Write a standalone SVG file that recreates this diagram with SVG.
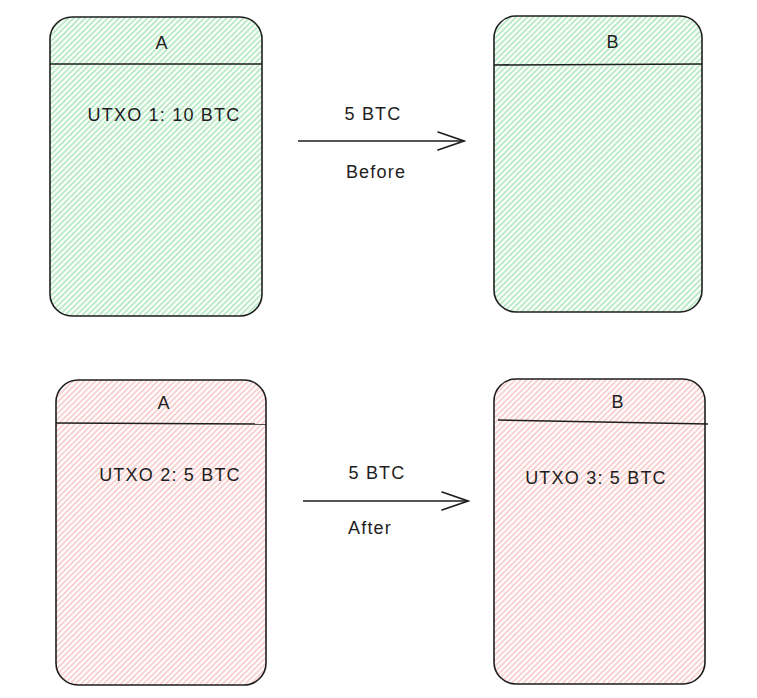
<svg xmlns="http://www.w3.org/2000/svg" width="757" height="698" viewBox="0 0 757 698">
<defs>
<pattern id="hg" width="4" height="4" patternUnits="userSpaceOnUse" patternTransform="rotate(-45)">
<line x1="0" y1="1" x2="4" y2="1" stroke="#6ad383" stroke-width="0.9"/>
</pattern>
<pattern id="hr" width="4" height="4" patternUnits="userSpaceOnUse" patternTransform="rotate(-45)">
<line x1="0" y1="1" x2="4" y2="1" stroke="#f29a9a" stroke-width="0.9"/>
</pattern>
<marker id="ah" markerWidth="30" markerHeight="20" refX="28" refY="10" orient="auto" markerUnits="userSpaceOnUse">
<path d="M2 1 L28 10 L2 19" fill="none" stroke="#1e1e1e" stroke-width="1.6" stroke-linecap="round"/>
</marker>
<style>
.box{stroke:#1e1e1e;stroke-width:1.6;}
.div{stroke:#1e1e1e;stroke-width:1.6;fill:none;}
.t{font-family:"Liberation Sans",sans-serif;font-size:18px;letter-spacing:1.2px;fill:#1e1e1e;text-anchor:middle;}
.c{stroke:#1e1e1e;stroke-width:1.6;fill:none;}
</style>
</defs>
<g id="nodeAbefore">
<rect class="box" x="50" y="17" width="212" height="299" rx="22" fill="url(#hg)"/>
<line class="div" x1="50" y1="64" x2="262" y2="64"/>
<text class="t" x="162" y="49">A</text>
<text class="t" x="164" y="121">UTXO 1: 10 BTC</text>
</g>
<g id="nodeBbefore">
<rect class="box" x="494" y="16" width="208" height="296" rx="22" fill="url(#hg)"/>
<line class="div" x1="494" y1="65" x2="702" y2="64"/>
<text class="t" x="613" y="48">B</text>
</g>
<g id="nodeAafter">
<rect class="box" x="56" y="380" width="210" height="305" rx="22" fill="url(#hr)"/>
<line class="div" x1="56" y1="423" x2="266" y2="424"/>
<text class="t" x="164" y="409">A</text>
<text class="t" x="170" y="481">UTXO 2: 5 BTC</text>
</g>
<g id="nodeBafter">
<rect class="box" x="494" y="379" width="211" height="305" rx="22" fill="url(#hr)"/>
<line class="div" x1="498" y1="420" x2="708" y2="424"/>
<text class="t" x="618" y="408">B</text>
<text class="t" x="596" y="484">UTXO 3: 5 BTC</text>
</g>
<g id="connectors">
<line class="c" x1="298" y1="141" x2="464" y2="141" marker-end="url(#ah)"/>
<text class="t" x="373" y="120">5 BTC</text>
<text class="t" x="376" y="178">Before</text>
<line class="c" x1="303" y1="501" x2="468" y2="501" marker-end="url(#ah)"/>
<text class="t" x="377" y="479">5 BTC</text>
<text class="t" x="370" y="534">After</text>
</g>
</svg>
